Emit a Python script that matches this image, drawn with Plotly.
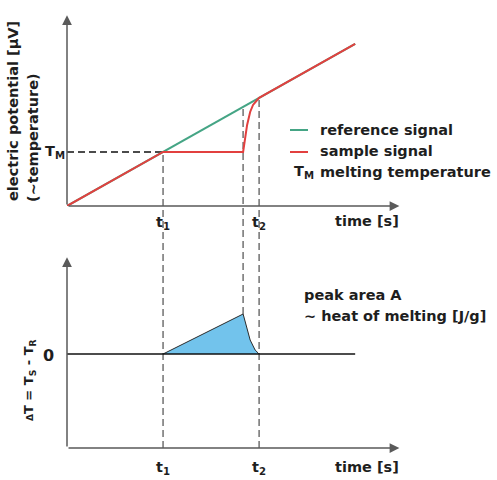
import plotly.graph_objects as go

# ---------------- data ----------------
time_ref = [0, 9]
ref_signal = [0, 9]
time_sample = [0, 3, 5.5, 5.625, 5.72, 5.81, 5.9, 5.97, 6, 9]
sample_signal = [0, 3, 3, 4.5, 5.22, 5.61, 5.8, 5.92, 6, 9]
time_dt = [3, 5.5, 5.72, 5.875, 5.97, 6]
delta_t = [0, 4, 1.4, 0.4, 0.1, 0]
t1, t_onset, t2 = 3, 5.5, 6
T_M = 3
time_end = 9

W, H = 497, 480
def px(x):
    return x / W
def py(y):
    return 1 - y / H

X_DOM = [px(67), px(400)]
X_RANGE = [0, 10.4]
Y1_DOM = [py(206), py(15)]
Y1_RANGE = [0, 10.6]
Y2_DOM = [py(448), py(257)]
Y2_RANGE = [-9.4, 9.7]

def to_paper(v, dom, rng):
    return dom[0] + (v - rng[0]) / (rng[1] - rng[0]) * (dom[1] - dom[0])

GREEN = "#45a585"
RED = "#e2403f"
BLUE = "#72c3ec"
AXIS = "#5a5a5a"
DASH_GRAY = "#7a7a7a"
TXT = "#1e1e1e"
FONT = dict(family="DejaVu Sans", size=14.5, color=TXT)

fig = go.Figure()

# top panel
fig.add_trace(go.Scatter(x=[0, t1], y=[T_M, T_M], mode="lines",
                         line=dict(color="#111", width=1.6, dash="7px,4px"),
                         xaxis="x", yaxis="y", hoverinfo="skip"))
fig.add_trace(go.Scatter(x=time_ref, y=ref_signal, mode="lines",
                         line=dict(color=GREEN, width=2), xaxis="x", yaxis="y"))
fig.add_trace(go.Scatter(x=time_sample, y=sample_signal, mode="lines",
                         line=dict(color=RED, width=2), xaxis="x", yaxis="y"))

# bottom panel
fig.add_trace(go.Scatter(x=time_dt, y=delta_t, mode="lines", fill="toself",
                         fillcolor=BLUE, line=dict(color="#2a2a2a", width=1),
                         xaxis="x2", yaxis="y2"))
fig.add_trace(go.Scatter(x=[0, time_end], y=[0, 0], mode="lines",
                         line=dict(color="#111", width=1.6), xaxis="x2", yaxis="y2"))

# dashed vertical guides spanning both panels
ref_at_onset = ref_signal[0] + (ref_signal[1] - ref_signal[0]) * (t_onset - time_ref[0]) / (time_ref[1] - time_ref[0])
guides = [
    (t1, to_paper(T_M, Y1_DOM, Y1_RANGE), to_paper(Y2_RANGE[0], Y2_DOM, Y2_RANGE)),
    (t_onset, to_paper(ref_at_onset, Y1_DOM, Y1_RANGE), to_paper(max(delta_t), Y2_DOM, Y2_RANGE)),
    (t2, to_paper(sample_signal[time_sample.index(t2)], Y1_DOM, Y1_RANGE), to_paper(Y2_RANGE[0], Y2_DOM, Y2_RANGE)),
]
shapes = []
for xv, ytop, ybot in guides:
    shapes.append(dict(type="line", xref="x", yref="paper", x0=xv, x1=xv, y0=ybot, y1=ytop,
                       line=dict(color=DASH_GRAY, width=1.6, dash="7px,4px"), layer="below"))

# legend samples
shapes.append(dict(type="line", xref="paper", yref="paper", x0=px(290), x1=px(308), y0=py(130), y1=py(130),
                   line=dict(color=GREEN, width=2)))
shapes.append(dict(type="line", xref="paper", yref="paper", x0=px(290), x1=px(308), y0=py(152), y1=py(152),
                   line=dict(color=RED, width=2)))

ann = []
def arrow(xref, yref, x, y, ax, ay):
    ann.append(dict(xref=xref, yref=yref, axref=xref, ayref=yref, x=x, y=y, ax=ax, ay=ay,
                    text="", showarrow=True, arrowhead=2, arrowsize=1.3, arrowwidth=1.5,
                    arrowcolor=AXIS, standoff=0, startstandoff=0))

arrow("x", "y", X_RANGE[1] - 0.02, 0, 0, 0)
arrow("x", "y", 0, Y1_RANGE[1] - 0.02, 0, 0)
arrow("x2", "y2", X_RANGE[1] - 0.02, Y2_RANGE[0], 0, Y2_RANGE[0])
arrow("x2", "y2", 0, Y2_RANGE[1] - 0.02, 0, Y2_RANGE[0])

def text(t, x, y, xanchor="center", yanchor="middle", angle=0, xref="paper", size=None):
    f = dict(FONT)
    if size:
        f["size"] = size
    ann.append(dict(xref=xref, yref="paper", x=x, y=y, text="<b>" + t + "</b>", showarrow=False,
                    xanchor=xanchor, yanchor=yanchor, textangle=angle, font=f))

text("electric potential [μV]", px(13), py(111), angle=-90)
text("(~temperature)", px(33), py(138), angle=-90)
text("T<sub>M</sub>", px(55), py(152))
text("t<sub>1</sub>", t1, py(223), xref="x")
text("t<sub>2</sub>", t2, py(223), xref="x")
text("time [s]", px(401), py(221), xanchor="right")
text("reference signal", px(318), py(130), xanchor="left")
text("sample signal", px(318), py(151), xanchor="left")
text("T<sub>M</sub>", px(292), py(172), xanchor="left")
text("melting temperature", px(318), py(172), xanchor="left")

text("<span style='font-size:9px'>Δ</span>T = T<sub>S</sub> - T<sub>R</sub>", px(29), py(380), angle=-90, size=13)
text("0", px(48), py(355), size=16)
text("peak area A", px(302), py(295), xanchor="left")
text("~ heat of melting [J/g]", px(302), py(316), xanchor="left")
text("t<sub>1</sub>", t1, py(468), xref="x")
text("t<sub>2</sub>", t2, py(468), xref="x")
text("time [s]", px(401), py(467), xanchor="right")

axis_common = dict(visible=False, showgrid=False, zeroline=False, fixedrange=True)
fig.update_layout(
    width=W, height=H,
    margin=dict(l=0, r=0, t=0, b=0),
    paper_bgcolor="white", plot_bgcolor="rgba(0,0,0,0)",
    showlegend=False,
    xaxis=dict(domain=X_DOM, range=X_RANGE, anchor="y", **axis_common),
    yaxis=dict(domain=Y1_DOM, range=Y1_RANGE, anchor="x", **axis_common),
    xaxis2=dict(domain=X_DOM, range=X_RANGE, anchor="y2", **axis_common),
    yaxis2=dict(domain=Y2_DOM, range=Y2_RANGE, anchor="x2", **axis_common),
    shapes=shapes,
    annotations=ann,
)

fig.write_html("out.html", config=dict(displayModeBar=False))
